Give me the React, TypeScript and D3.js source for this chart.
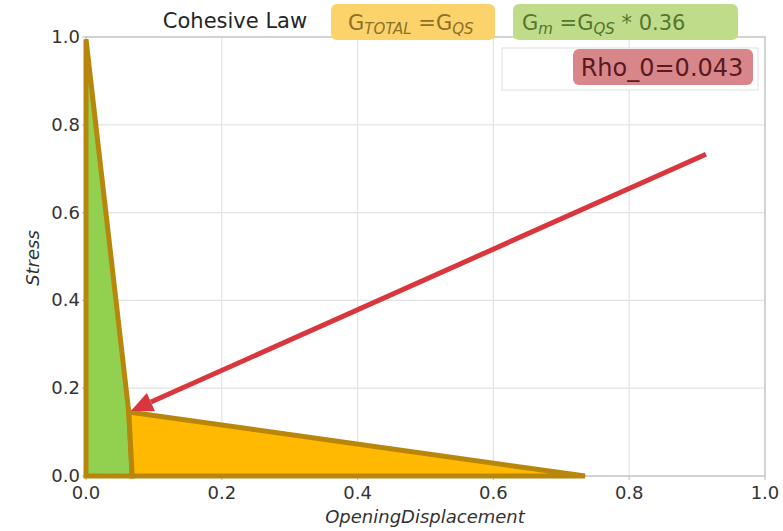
import React from "react";
import * as d3 from "d3";

const xTicks = [0, 0.2, 0.4, 0.6, 0.8, 1.0];
const yTicks = [0, 0.2, 0.4, 0.6, 0.8, 1.0];
const greenX = [0, 0, 0.063, 0.068];
const greenY = [0, 0.995, 0.146, 0];
const yellowX = [0.063, 0.735, 0.068];
const yellowY = [0.146, 0, 0];
const arrowX = [0.913, 0.066];
const arrowY = [0.733, 0.148];

const W = 783, H = 531;
const x = d3.scaleLinear().domain([0, 1]).range([86, 765]);
const y = d3.scaleLinear().domain([0, 1]).range([476, 37]);

export default function App() {
  const line = d3.line<[number, number]>().x(d => x(d[0])).y(d => y(d[1]));
  const green = greenX.map((v, i) => [v, greenY[i]] as [number, number]);
  const yellow = yellowX.map((v, i) => [v, yellowY[i]] as [number, number]);
  const ax0 = x(arrowX[0]), ay0 = y(arrowY[0]), ax1 = x(arrowX[1]), ay1 = y(arrowY[1]);
  const ang = Math.atan2(ay1 - ay0, ax1 - ax0);
  const hl = 22, hw = 10;
  const bx = ax1 - hl * Math.cos(ang), by = ay1 - hl * Math.sin(ang);
  const px = -Math.sin(ang), py = Math.cos(ang);
  const head = `M${ax1},${ay1}L${bx + px * hw},${by + py * hw}L${bx - px * hw},${by - py * hw}Z`;
  const font = "DejaVu Sans, sans-serif";
  return (
    <svg width={W} height={H} style={{ position: "absolute", left: 0, top: 0, background: "#fff" }} fontFamily={font}>
      <rect x={0} y={0} width={W} height={H} fill="#fff" />
      {xTicks.slice(1, -1).map(t => (
        <line key={"gx" + t} x1={x(t)} x2={x(t)} y1={y(0)} y2={y(1)} stroke="#e3e3e3" strokeWidth={1.2} />
      ))}
      {yTicks.slice(1, -1).map(t => (
        <line key={"gy" + t} x1={x(0)} x2={x(1)} y1={y(t)} y2={y(t)} stroke="#e3e3e3" strokeWidth={1.2} />
      ))}
      <rect x={x(0)} y={y(1)} width={x(1) - x(0)} height={y(0) - y(1)} fill="none" stroke="#c4c4c4" strokeWidth={1.5} />
      {xTicks.map(t => (
        <g key={"tx" + t}>
          <line x1={x(t)} x2={x(t)} y1={y(0)} y2={y(0) + 4} stroke="#c4c4c4" strokeWidth={1.2} />
          <text x={x(t)} y={y(0) + 23} textAnchor="middle" fontSize={18} fill="#333">{t.toFixed(1)}</text>
        </g>
      ))}
      {yTicks.map(t => (
        <g key={"ty" + t}>
          <line x1={x(0) - 4} x2={x(0)} y1={y(t)} y2={y(t)} stroke="#c4c4c4" strokeWidth={1.2} />
          <text x={x(0) - 6} y={y(t) + 6} textAnchor="end" fontSize={18} fill="#333">{t.toFixed(1)}</text>
        </g>
      ))}
      <text x={425} y={523} textAnchor="middle" fontSize={18} fontStyle="italic" fill="#333">OpeningDisplacement</text>
      <text transform={`translate(39,258) rotate(-90)`} textAnchor="middle" fontSize={18} fontStyle="italic" fill="#333">Stress</text>

      <path d={line(green)! + "Z"} fill="#92d050" stroke="#b8860b" strokeWidth={5} strokeLinejoin="miter" strokeMiterlimit={4} />
      <path d={line(yellow)! + "Z"} fill="#ffb900" stroke="#b8860b" strokeWidth={5} strokeLinejoin="miter" strokeMiterlimit={4} />

      <line x1={ax0} y1={ay0} x2={bx} y2={by} stroke="#d9363e" strokeWidth={5} />
      <path d={head} fill="#d9363e" />

      <text x={235} y={28} textAnchor="middle" fontSize={21} fill="#262626">Cohesive Law</text>
      <rect x={331} y={4} width={164} height={36} rx={6} fill="#fbd36a" />
      <text x={348} y={30} fontSize={21} fill="#8a7228">
        G<tspan fontSize={15} fontStyle="italic" dy={4}>TOTAL</tspan><tspan dy={-4}> =G</tspan><tspan fontSize={15} fontStyle="italic" dy={4}>QS</tspan>
      </text>
      <rect x={513} y={4} width={225} height={36} rx={6} fill="#bfdc8a" />
      <text x={522} y={30} fontSize={21} fill="#56752f">
        G<tspan fontSize={15} fontStyle="italic" dy={4}>m</tspan><tspan dy={-4}> =G</tspan><tspan fontSize={15} fontStyle="italic" dy={4}>QS</tspan><tspan dy={-4}> * 0.36</tspan>
      </text>
      <rect x={502} y={48} width={256} height={42} fill="#fff" stroke="#e0e0e0" strokeWidth={1} />
      <rect x={573} y={49} width={180} height={36} rx={6} fill="#d9868b" />
      <text x={662} y={76} textAnchor="middle" fontSize={24} fill="#5a1a20">Rho_0=0.043</text>
    </svg>
  );
}
